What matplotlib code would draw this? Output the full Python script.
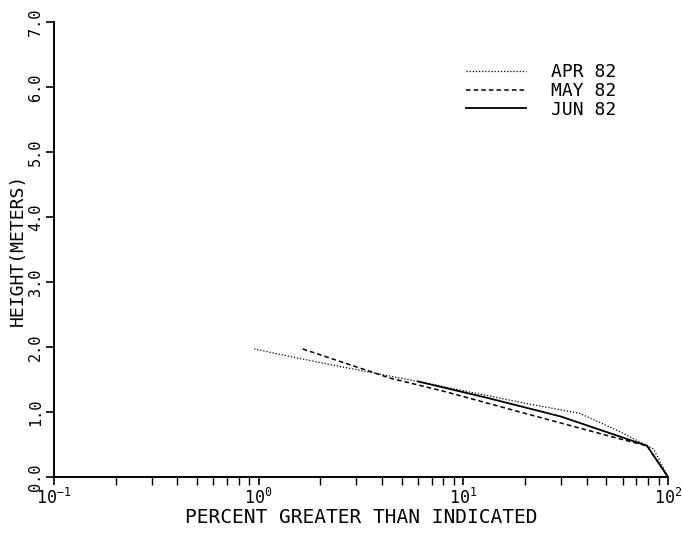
import matplotlib
matplotlib.use("Agg")
import matplotlib.pyplot as plt
from matplotlib.ticker import FixedLocator, LogLocator, NullFormatter

plt.rcParams['font.family'] = ['DejaVu Sans Mono', 'DejaVu Sans']
plt.rcParams['mathtext.fontset'] = 'custom'
plt.rcParams['mathtext.rm'] = 'DejaVu Sans Mono'

# percent greater than indicated vs height (m)
apr_pct = [0.95, 1.55, 2.5, 6.0, 16.4, 22, 37, 58, 85, 100]
apr_h = [1.97, 1.83, 1.70, 1.47, 1.19, 1.11, 0.98, 0.70, 0.43, 0.0]

may_pct = [1.64, 4.4, 8.0, 20.5, 56, 79, 100]
may_h = [1.97, 1.52, 1.32, 0.97, 0.60, 0.48, 0.0]

jun_pct = [6.0, 13, 30, 79, 100]
jun_h = [1.47, 1.22, 0.93, 0.48, 0.0]

series_labels = ['APR 82', 'MAY 82', 'JUN 82']
y_ticks = [0, 1, 2, 3, 4, 5, 6, 7]
x_ticks = [0.1, 1, 10, 100]
x_tick_labels = ['$10^{-1}$', '$10^{0}$', '$10^{1}$', '$10^{2}$']

fig = plt.figure(figsize=(6.82, 5.38), dpi=100)
ax = fig.add_axes([54/682, 1 - 477/538, (668 - 54)/682, (477 - 22)/538])

ax.plot(apr_pct, apr_h, color='black', linestyle=(0, (1, 1.5)), linewidth=0.9,
        label=series_labels[0])
ax.plot(may_pct, may_h, color='black', linestyle=(0, (3, 2)), linewidth=1.1,
        label=series_labels[1])
ax.plot(jun_pct, jun_h, color='black', linestyle='-', linewidth=1.3,
        label=series_labels[2])

ax.set_xscale('log')
ax.set_xlim(0.1, 100)
ax.set_ylim(0, 7)

# axes: only left and bottom lines
ax.spines['top'].set_visible(False)
ax.spines['right'].set_visible(False)
ax.spines['left'].set_linewidth(1.4)
ax.spines['bottom'].set_linewidth(1.4)

ax.xaxis.set_major_locator(FixedLocator(x_ticks))
ax.set_xticklabels(x_tick_labels)
ax.xaxis.set_minor_locator(LogLocator(base=10, subs=range(2, 10)))
ax.xaxis.set_minor_formatter(NullFormatter())
ax.tick_params(axis='x', which='major', direction='out', length=6, width=1.2,
               labelsize=12, pad=2)
ax.tick_params(axis='x', which='minor', direction='out', length=6, width=1.0)

ax.set_yticks(y_ticks)
ax.set_yticklabels(['%.1f' % v for v in y_ticks], rotation=90, va='center')
ax.tick_params(axis='y', direction='out', length=6, width=1.2, labelsize=11, pad=2)

ax.set_xlabel('PERCENT GREATER THAN INDICATED', fontsize=14, labelpad=0)
ax.set_ylabel('HEIGHT(METERS)', fontsize=13, labelpad=1)

ax.legend(loc='upper left', bbox_to_anchor=(466/682, 1 - 63/538),
          bbox_transform=fig.transFigure, frameon=False, fontsize=13,
          handlelength=3.3, handletextpad=1.4, labelspacing=0.05,
          borderpad=0, borderaxespad=0)

fig.savefig('out.png', dpi=100)
